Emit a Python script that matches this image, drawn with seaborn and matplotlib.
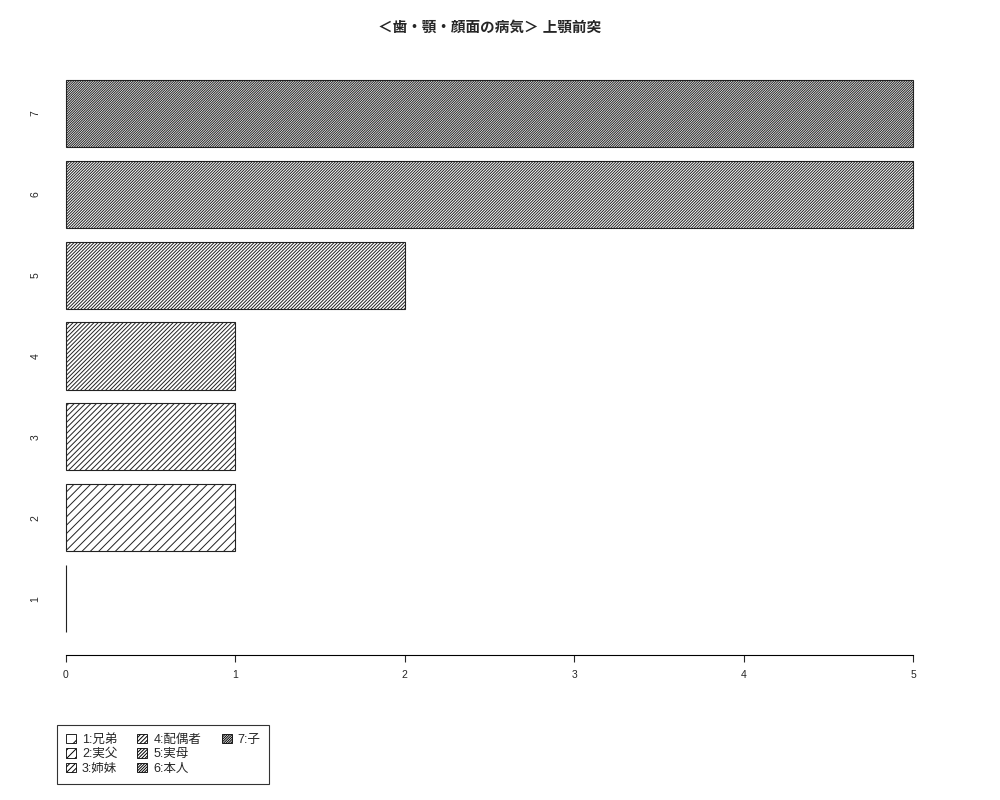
import numpy as np
import pandas as pd
import seaborn as sns
import matplotlib.pyplot as plt
from matplotlib.patches import Patch

# data
categories = ['1', '2', '3', '4', '5', '6', '7']
counts = [0, 1, 1, 1, 2, 5, 5]
legend_labels = ['1:兄弟', '2:実父', '3:姉妹', '4:配偶者', '5:実母', '6:本人', '7:子']
title = '＜歯・顎・顔面の病気＞ 上顎前突'

df = pd.DataFrame({'cat': categories, 'count': counts})

sns.set_style('white')
plt.rcParams['font.family'] = ['Liberation Sans', 'Noto Sans CJK JP', 'DejaVu Sans']
plt.rcParams['hatch.linewidth'] = 0.7

fig = plt.figure(figsize=(10, 8), dpi=100)
ax = fig.add_axes([0.032, 0.181, 0.915, 0.747])

order = categories[::-1]
sns.barplot(data=df, x='count', y='cat', order=order, orient='h', color='white',
            saturation=1, edgecolor='black', linewidth=0.8, width=0.83, ax=ax)

# hatch density grows with the category number
for patch, cat in zip(ax.patches, order):
    patch.set_hatch('/' * (2 * int(cat)))
    patch.set_facecolor('white')
    patch.set_edgecolor('#222222')

ax.set_xlim(-0.2, 5.2)
ax.set_ylim(6.70, -0.69)
ax.set_xlabel('')
ax.set_ylabel('')

for side in ['top', 'right', 'left']:
    ax.spines[side].set_visible(False)
ax.spines['bottom'].set_bounds(0, 5)
ax.spines['bottom'].set_linewidth(0.8)
ax.spines['bottom'].set_color('black')
ax.set_xticks(range(0, 6))
ax.tick_params(axis='x', bottom=True, length=5, width=0.8, labelsize=7.5, pad=6)
ax.tick_params(axis='y', left=False, length=0, labelsize=7.5, pad=-6)
for lbl in ax.get_yticklabels():
    lbl.set_rotation(90)
    lbl.set_va('center')

fig.text(0.4895, 0.965, title, ha='center', va='center', fontsize=10.5, fontweight='bold')

handles = [Patch(facecolor='white', edgecolor='black', hatch='/' * (2 * (i + 1)), linewidth=0.6)
           for i in range(len(legend_labels))]
labels = list(legend_labels)
# two blank slots so the columns hold 3, 3 and 1 entries
blank = Patch(facecolor='none', edgecolor='none')
handles += [blank, blank]
labels += ['', '']
leg = fig.legend(handles, labels, ncol=3, loc='upper left',
                 bbox_to_anchor=(0.057, 0.094), fontsize=9, frameon=True, fancybox=False,
                 handlelength=0.8, handleheight=0.8, handletextpad=0.5, columnspacing=1.6,
                 labelspacing=0.2, borderpad=0.7, borderaxespad=0)
leg.get_frame().set_edgecolor('black')
leg.get_frame().set_linewidth(0.8)

fig.savefig('out.png', dpi=100)
